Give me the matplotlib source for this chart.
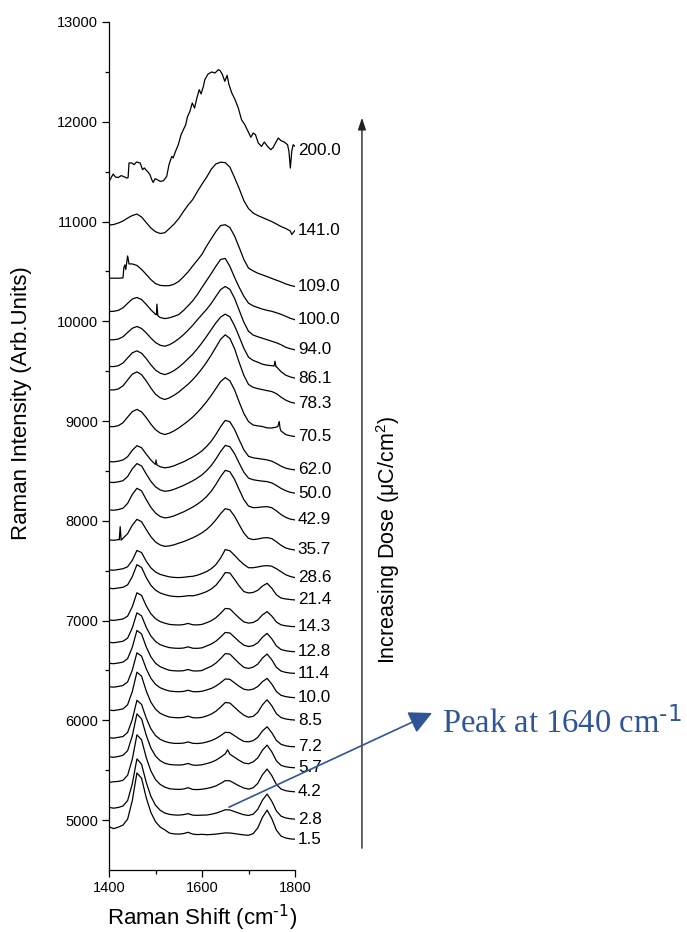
import matplotlib.pyplot as plt
import numpy as np

plt.rcParams['font.family'] = ['Liberation Sans', 'DejaVu Sans']
plt.rcParams['mathtext.default'] = 'regular'

# Raman shift grid shared by the stacked spectra (cm-1)
shift = np.arange(1400, 1801, 10)

# Stacked spectra, one list per dose (uC/cm2), offset already applied
s_1_5 = [4933, 4915, 4930, 4950, 5010, 5195, 5473,
         5420, 5225, 5078, 4984, 4931, 4902,
         4870, 4862, 4860, 4865, 4878, 4860, 4855, 4858,
         4854, 4856, 4860, 4866, 4872, 4871, 4865, 4858, 4852, 4848,
         4865, 4922, 5029, 5100, 5016, 4900, 4840, 4821, 4812, 4809]
s_2_8 = [5127, 5120, 5127, 5142, 5196, 5363, 5614,
         5560, 5379, 5239, 5149, 5099, 5071,
         5058, 5052, 5050, 5055, 5065, 5050, 5048, 5050,
         5051, 5059, 5070, 5086, 5104, 5102, 5085, 5069, 5054, 5047,
         5060, 5108, 5200, 5261, 5190, 5092, 5040, 5022, 5014, 5010]
s_4_2 = [5378, 5385, 5388, 5400, 5450, 5609, 5855,
         5805, 5628, 5493, 5406, 5358, 5331,
         5315, 5310, 5308, 5312, 5325, 5308, 5306, 5310,
         5317, 5328, 5343, 5368, 5396, 5394, 5368, 5343, 5322, 5311,
         5324, 5369, 5455, 5512, 5447, 5358, 5312, 5295, 5288, 5284]
s_5_7 = [5635, 5630, 5638, 5650, 5696, 5844, 6065,
         6015, 5851, 5723, 5642, 5596, 5570,
         5558, 5554, 5552, 5556, 5568, 5552, 5550, 5555,
         5567, 5580, 5601, 5631, 5664, 5661, 5630, 5599, 5573, 5565,
         5584, 5624, 5701, 5752, 5685, 5595, 5549, 5535, 5528, 5525]
s_7_2 = [5826, 5822, 5830, 5838, 5879, 6008, 6201,
         6160, 6023, 5916, 5848, 5810, 5789,
         5776, 5770, 5769, 5772, 5784, 5770, 5768, 5772,
         5783, 5797, 5818, 5847, 5880, 5877, 5846, 5815, 5789, 5785,
         5797, 5830, 5894, 5936, 5877, 5799, 5760, 5745, 5738, 5735]
s_8_5 = [6103, 6098, 6106, 6115, 6157, 6288, 6483,
         6443, 6295, 6183, 6112, 6071, 6049,
         6033, 6028, 6026, 6030, 6042, 6027, 6025, 6030,
         6044, 6063, 6092, 6133, 6179, 6174, 6131, 6088, 6052, 6031,
         6040, 6080, 6156, 6206, 6147, 6067, 6028, 6014, 6007, 6003]
s_10_0 = [6337, 6333, 6340, 6350, 6385, 6503, 6677,
          6644, 6518, 6422, 6361, 6327, 6308,
          6294, 6289, 6287, 6290, 6302, 6288, 6287, 6292,
          6305, 6320, 6344, 6377, 6415, 6411, 6376, 6341, 6312, 6304,
          6313, 6339, 6388, 6421, 6364, 6289, 6251, 6238, 6231, 6227]
s_11_4 = [6572, 6568, 6575, 6584, 6619, 6732, 6901,
          6866, 6736, 6637, 6573, 6538, 6518,
          6502, 6497, 6495, 6498, 6510, 6496, 6495, 6500,
          6522, 6543, 6574, 6619, 6669, 6664, 6617, 6571, 6531, 6521,
          6533, 6564, 6625, 6665, 6608, 6532, 6494, 6481, 6474, 6471]
s_12_8 = [6782, 6778, 6785, 6793, 6824, 6926, 7078,
          7048, 6933, 6846, 6791, 6759, 6742,
          6729, 6724, 6722, 6725, 6737, 6723, 6722, 6727,
          6746, 6765, 6794, 6835, 6881, 6876, 6833, 6790, 6754, 6740,
          6749, 6778, 6834, 6872, 6818, 6746, 6710, 6698, 6691, 6688]
s_14_3 = [7006, 7002, 7009, 7016, 7045, 7139, 7279,
          7252, 7148, 7069, 7019, 6990, 6974,
          6962, 6958, 6956, 6960, 6972, 6958, 6957, 6962,
          6979, 6999, 7029, 7073, 7122, 7117, 7071, 7026, 6987, 6975,
          6981, 7007, 7057, 7090, 7046, 6986, 6957, 6948, 6942, 6939]
s_21_4 = [7324, 7320, 7327, 7334, 7358, 7440, 7560,
          7533, 7432, 7354, 7305, 7277, 7261,
          7248, 7242, 7240, 7243, 7250, 7248, 7258, 7273,
          7291, 7317, 7355, 7413, 7482, 7477, 7413, 7347, 7291, 7277,
          7282, 7304, 7346, 7374, 7325, 7259, 7226, 7217, 7211, 7207]
s_28_6 = [7508, 7505, 7512, 7520, 7540, 7604, 7703,
          7682, 7595, 7529, 7487, 7463, 7450,
          7438, 7433, 7431, 7434, 7440, 7444, 7455, 7472,
          7492, 7520, 7562, 7627, 7712, 7700, 7655, 7605, 7563, 7530,
          7530, 7538, 7547, 7551, 7545, 7520, 7490, 7460, 7442, 7431]
s_35_7 = [7808, 7805, 7812, 7825, 7871, 7956, 8015,
          7991, 7913, 7841, 7788, 7758, 7744,
          7749, 7760, 7776, 7791, 7810, 7830, 7853, 7880,
          7914, 7957, 8011, 8072, 8122, 8110, 8046, 7961, 7878, 7824,
          7812, 7818, 7828, 7832, 7822, 7790, 7755, 7728, 7715, 7708]
s_42_9 = [8109, 8106, 8113, 8127, 8175, 8264, 8326,
          8300, 8214, 8135, 8078, 8044, 8029,
          8036, 8050, 8070, 8089, 8113, 8138, 8167, 8201,
          8244, 8298, 8366, 8443, 8506, 8492, 8416, 8312, 8213, 8148,
          8132, 8134, 8140, 8142, 8132, 8100, 8063, 8035, 8017, 8009]
s_50_0 = [8387, 8384, 8391, 8402, 8444, 8521, 8574,
          8550, 8470, 8396, 8341, 8310, 8296,
          8302, 8316, 8335, 8354, 8377, 8401, 8429, 8461,
          8504, 8555, 8621, 8695, 8756, 8743, 8673, 8578, 8487, 8428,
          8412, 8404, 8398, 8393, 8380, 8355, 8325, 8302, 8286, 8277]
s_62_0 = [8594, 8591, 8598, 8610, 8643, 8707, 8753,
          8733, 8669, 8610, 8567, 8542, 8531,
          8538, 8552, 8572, 8591, 8615, 8639, 8668, 8702,
          8746, 8799, 8867, 8944, 9007, 8993, 8916, 8812, 8712, 8647,
          8632, 8625, 8618, 8611, 8598, 8575, 8548, 8528, 8517, 8511]
s_70_5 = [8945, 8944, 8954, 8983, 9040, 9095, 9117,
          9092, 9035, 8969, 8913, 8880, 8865,
          8879, 8902, 8931, 8965, 9000, 9040, 9086, 9138,
          9195, 9258, 9327, 9396, 9436, 9403, 9313, 9190, 9076, 8995,
          8960, 8952, 8945, 8932, 8930, 8940, 8900, 8865, 8852, 8845]
s_78_3 = [9313, 9312, 9322, 9353, 9412, 9470, 9493,
          9465, 9403, 9331, 9269, 9233, 9216,
          9233, 9259, 9291, 9330, 9369, 9415, 9467, 9526,
          9591, 9663, 9741, 9819, 9865, 9828, 9726, 9587, 9458, 9367,
          9338, 9325, 9315, 9305, 9296, 9275, 9240, 9210, 9190, 9179]
s_86_1 = [9547, 9546, 9555, 9582, 9633, 9684, 9704,
          9680, 9627, 9564, 9511, 9480, 9466,
          9482, 9506, 9540, 9580, 9625, 9670, 9725, 9785,
          9850, 9918, 9985, 10042, 10072, 10045, 9955, 9845, 9730, 9640,
          9608, 9590, 9570, 9560, 9555, 9545, 9495, 9460, 9442, 9430]
s_94_0 = [9814, 9815, 9822, 9845, 9888, 9930, 9948,
          9928, 9884, 9832, 9787, 9760, 9750,
          9765, 9792, 9825, 9865, 9910, 9960, 10015, 10068,
          10120, 10180, 10250, 10318, 10349, 10320, 10230, 10110, 9990, 9900,
          9862, 9845, 9830, 9815, 9800, 9785, 9765, 9740, 9725, 9714]
s_100_0 = [10098, 10100, 10110, 10135, 10180, 10223, 10239,
           10218, 10170, 10115, 10070, 10038, 10027,
           10035, 10050, 10068, 10108, 10155, 10205, 10268, 10340,
           10410, 10480, 10553, 10620, 10630, 10550, 10440, 10340, 10250, 10182,
           10155, 10138, 10122, 10110, 10100, 10086, 10070, 10050, 10030, 10015]
s_109_0 = [10432, 10432, 10432, 10435, 10655, 10575, 10560,
           10520, 10470, 10418, 10378, 10360, 10356,
           10358, 10372, 10400, 10445, 10495, 10555, 10612, 10672,
           10755, 10828, 10900, 10960, 10968, 10940, 10855, 10740, 10620, 10533,
           10505, 10482, 10465, 10448, 10430, 10412, 10395, 10375, 10360, 10349]
s_141_0 = [10965, 10970, 10985, 11005, 11035, 11060, 11075,
           11045, 10990, 10935, 10898, 10880, 10888,
           10930, 10975, 11030, 11100, 11165, 11220, 11300, 11375,
           11445, 11525, 11578, 11595, 11590, 11545, 11440, 11330, 11210, 11130,
           11085, 11060, 11040, 11020, 11000, 10975, 10950, 10930, 10905, 10910]

# the 200 uC/cm2 spectrum is noisy, so it keeps its own sampling
shift_200 = [1400, 1409, 1414, 1420, 1426, 1431, 1438, 1441, 1443, 1449,
             1454, 1459, 1467, 1472, 1476, 1481, 1485, 1488, 1492, 1495,
             1499, 1504, 1510, 1517, 1524, 1529, 1535, 1538, 1543, 1549,
             1555, 1560, 1565, 1569, 1574, 1579, 1584, 1589, 1594, 1598,
             1603, 1606, 1613, 1621, 1628, 1635, 1639, 1644, 1649, 1654,
             1658, 1664, 1671, 1678, 1685, 1692, 1699, 1705, 1710, 1715,
             1721, 1728, 1734, 1741, 1748, 1753, 1758, 1764, 1770, 1777,
             1784, 1787, 1790, 1793, 1796, 1800]
s_200_0 = [11402, 11476, 11445, 11442, 11460, 11452, 11436, 11440, 11587, 11587,
           11570, 11597, 11587, 11520, 11537, 11510, 11490, 11469, 11419, 11392,
           11429, 11419, 11402, 11409, 11452, 11570, 11653, 11637, 11703, 11770,
           11871, 11921, 11971, 12054, 12104, 12188, 12138, 12239, 12322, 12279,
           12355, 12422, 12479, 12499, 12489, 12522, 12512, 12472, 12405, 12465,
           12372, 12289, 12222, 12138, 12021, 11971, 11904, 11844, 11887, 11871,
           11787, 11753, 11797, 11753, 11720, 11743, 11787, 11837, 11810, 11797,
           11770, 11703, 11536, 11703, 11770, 11753]

# cosmic-ray spikes (shift, intensity) sitting between grid points
spike_5_7 = [(1655, 5705)]
spike_35_7 = [(1422, 7810), (1424, 7942), (1426, 7806)]
spike_62_0 = [(1499, 8568), (1501, 8610), (1503, 8560)]
spike_70_5 = [(1763, 8945), (1766, 8995), (1768, 8925)]
spike_86_1 = [(1755, 9552), (1757, 9600), (1759, 9545)]
spike_100_0 = [(1502, 10066), (1503, 10172), (1505, 10056)]
spike_109_0 = [(1432, 10540), (1434, 10565), (1436, 10520), (1443, 10575)]
spike_141_0 = [(1793, 10870)]

doses = ['1.5', '2.8', '4.2', '5.7', '7.2', '8.5', '10.0', '11.4', '12.8',
         '14.3', '21.4', '28.6', '35.7', '42.9', '50.0', '62.0', '70.5',
         '78.3', '86.1', '94.0', '100.0', '109.0', '141.0']
spectra = [s_1_5, s_2_8, s_4_2, s_5_7, s_7_2, s_8_5, s_10_0, s_11_4, s_12_8,
           s_14_3, s_21_4, s_28_6, s_35_7, s_42_9, s_50_0, s_62_0, s_70_5,
           s_78_3, s_86_1, s_94_0, s_100_0, s_109_0, s_141_0]
spikes = {'5.7': spike_5_7, '35.7': spike_35_7, '62.0': spike_62_0,
          '70.5': spike_70_5, '86.1': spike_86_1, '100.0': spike_100_0,
          '109.0': spike_109_0, '141.0': spike_141_0}

fig = plt.figure(figsize=(6.87, 9.32), dpi=100)
ax = fig.add_axes([0.1587, 0.0665, 0.2707, 0.9099])

for dose, y in zip(doses, spectra):
    xs = list(shift) + [p[0] for p in spikes.get(dose, [])]
    ys = list(y) + [p[1] for p in spikes.get(dose, [])]
    order = np.argsort(xs)
    xs = np.array(xs)[order]
    ys = np.array(ys)[order]
    ax.plot(xs, ys, color='black', lw=0.9)
    ax.text(1806, ys[-1], dose, fontsize=12.3, ha='left', va='center')

ax.plot(shift_200, s_200_0, color='black', lw=0.9)
ax.text(1806, s_200_0[-1] - 40, '200.0', fontsize=12.3, ha='left', va='center')

ax.set_xlim(1400, 1800)
ax.set_ylim(4500, 13000)
ax.set_xticks([1400, 1600, 1800])
ax.set_xticks([1500, 1700], minor=True)
ax.set_yticks(np.arange(5000, 13001, 1000))
ax.set_yticks(np.arange(5500, 13000, 1000), minor=True)
ax.tick_params(which='major', direction='out', length=5, width=0.9,
               labelsize=10.5, pad=3)
ax.tick_params(which='minor', direction='out', length=3, width=0.9)
ax.spines['top'].set_visible(False)
ax.spines['right'].set_visible(False)
for s in ['left', 'bottom']:
    ax.spines[s].set_linewidth(0.9)

fig.text(202 / 687, 1 - 925 / 932, r'Raman Shift (cm$^{\text{-1}}$)',
         fontsize=16, ha='center', va='baseline')
fig.text(22 / 687, 1 - 403 / 932, 'Raman Intensity (Arb.Units)', fontsize=16,
         rotation=90, ha='center', va='center')

# dose direction arrow
ax.annotate('', xy=(1.36, 12041), xycoords=('axes fraction', 'data'),
            xytext=(1.36, 4719), textcoords=('axes fraction', 'data'),
            arrowprops=dict(arrowstyle='-|>,head_length=0.6,head_width=0.2',
                            mutation_scale=12, color='#222222', lw=1.0,
                            shrinkA=0, shrinkB=0))
fig.text(388 / 687, 1 - 540 / 932, 'Increasing Dose (μC/cm$^{2}$)',
         fontsize=15.5, rotation=90, ha='center', va='center')

# pointer to the emerging C=C band
ax.annotate('', xy=(432 / 687, 1 - 713 / 932), xycoords='figure fraction',
            xytext=(1658, 5130), textcoords='data',
            arrowprops=dict(arrowstyle='-|>,head_length=0.7,head_width=0.35',
                            mutation_scale=20, color='#2f5597', lw=1.2,
                            shrinkA=0, shrinkB=0))
fig.text(442 / 687, 1 - 733 / 932, r'Peak at 1640 cm$^{\text{-1}}$',
         color='#2f5597', fontsize=23.5, family='Liberation Serif',
         ha='left', va='baseline')

fig.savefig('out.png', dpi=100)
